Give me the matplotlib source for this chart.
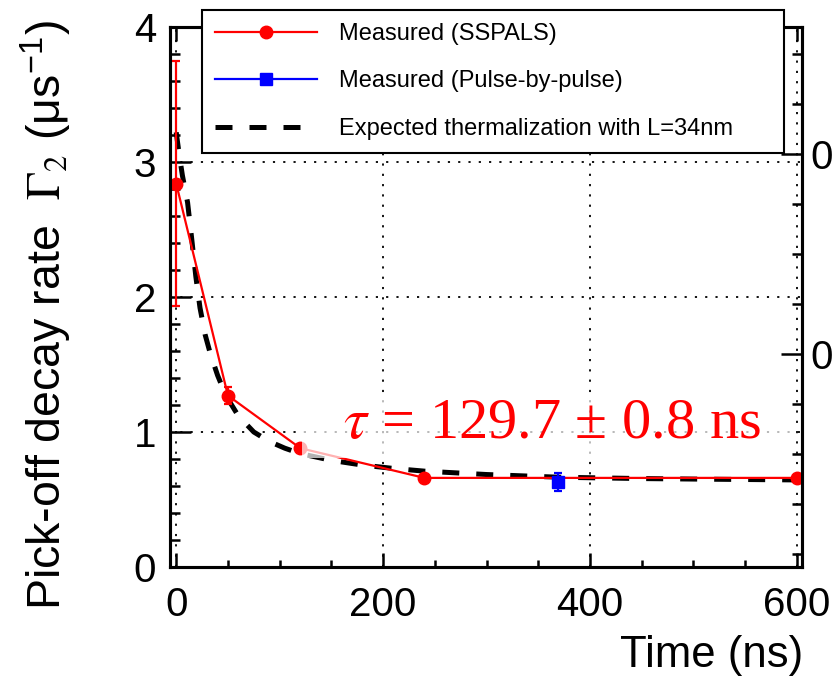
import numpy as np
import matplotlib.pyplot as plt
from matplotlib.patches import Rectangle

plt.rcParams['font.family'] = ['Liberation Sans', 'DejaVu Sans']
plt.rcParams['mathtext.fontset'] = 'stix'

# SSPALS measurements
t_sspals = [0, 50, 120, 240, 600]
g_sspals = [2.84, 1.27, 0.88, 0.66, 0.66]
e_sspals = [0.91, 0.065, 0.01, 0.01, 0.01]

# pulse-by-pulse measurement
t_pbp = [369]
g_pbp = [0.63]
e_pbp = [0.07]

# expected thermalization curve
t_exp = [0, 3, 6, 11, 15, 19, 23, 28, 33, 40, 48, 60, 75, 90, 105, 120,
         150, 180, 210, 240, 300, 370, 450, 520, 600]
g_exp = [3.22, 3.05, 2.9, 2.7, 2.43, 2.15, 1.92, 1.72, 1.58, 1.42, 1.27,
         1.12, 1.0, 0.93, 0.88, 0.84, 0.79, 0.755, 0.73, 0.71, 0.685,
         0.665, 0.655, 0.65, 0.645]

W, H = 835, 678
fig = plt.figure(figsize=(W / 100, H / 100), dpi=100)
ax = fig.add_axes([170 / W, 1 - 567 / H, (802 - 170) / W, (567 - 27) / H])

ax.set_xlim(-6, 605)
ax.set_ylim(0, 4)

# grid
grid_style = dict(color='black', lw=1.3, ls=(0, (1.2, 4.5)), zorder=1)
for gx in [0, 200, 400, 600]:
    ax.axvline(gx, **grid_style)
for gy in [1, 2, 3]:
    ax.axhline(gy, **grid_style)

ax.errorbar(t_sspals, g_sspals, yerr=e_sspals, fmt='none', ecolor='red',
            elinewidth=1.6, capsize=3, capthick=1.6, zorder=4)
h1, = ax.plot(t_sspals, g_sspals, color='red', marker='o', ms=9, lw=1.6,
              zorder=4, label='Measured (SSPALS)')
ax.errorbar(t_pbp, g_pbp, yerr=e_pbp, fmt='none', ecolor='blue',
            elinewidth=1.6, capsize=3, capthick=1.6, zorder=4)
h2, = ax.plot(t_pbp, g_pbp, color='blue', marker='s', ms=9, lw=1.6,
              zorder=4, label='Measured (Pulse-by-pulse)')
h3, = ax.plot(t_exp, g_exp, color='black', lw=3.6, ls=(0, (3.4, 3.4)),
              zorder=3, label='Expected thermalization with L=34nm')

# semi-transparent box behind the tau label
ax.add_patch(Rectangle((122, 0.805), 477, 0.485, facecolor='white',
                       edgecolor='none', alpha=0.7, zorder=5))
ax.text(343 / W, 1 - 438 / H, r'$\tau$ = 129.7 ± 0.8 ns', transform=fig.transFigure,
        color='red', fontsize=42, family=['Liberation Serif', 'DejaVu Serif'],
        ha='left', va='baseline', zorder=6)

# ticks
ax.set_xticks([0, 200, 400, 600])
ax.set_xticks(np.arange(0, 601, 50), minor=True)
ax.set_yticks([0, 1, 2, 3, 4])
ax.set_yticks(np.arange(0, 4.01, 0.2), minor=True)
ax.tick_params(axis='both', which='both', direction='in', width=1.8,
               labelsize=29, top=True, right=False)
ax.tick_params(axis='x', which='major', length=10, pad=14)
ax.tick_params(axis='x', which='minor', length=5)
ax.tick_params(axis='y', which='major', length=15, pad=10)
ax.tick_params(axis='y', which='minor', length=7.5)
for s in ax.spines.values():
    s.set_linewidth(2.2)

# right-hand axis (cut off in the original)
ax2 = ax.twinx()
ax2.set_ylim(0.0935, 0.3635)
ax2.set_yticks([0.2, 0.3])
ax2.set_yticklabels(['0.2', '0.3'])
ax2.set_yticks(np.arange(0.1, 0.36, 0.025), minor=True)
ax2.tick_params(axis='y', which='major', direction='in', length=15, width=1.8,
                labelsize=29, pad=6)
ax2.tick_params(axis='y', which='minor', direction='in', length=7.5, width=1.8)
for s in ax2.spines.values():
    s.set_linewidth(2.2)

leg = ax2.legend(handles=[h1, h2, h3], loc='upper left', mode='expand',
                 bbox_to_anchor=(202 / W, 1 - 150 / H, (784 - 202) / W, 140 / H),
                 bbox_transform=fig.transFigure, fontsize=17, frameon=True,
                 fancybox=False, handlelength=4.3, handletextpad=0.95,
                 labelspacing=1.08, borderpad=0.55, borderaxespad=0,
                 framealpha=1)
leg.get_frame().set_edgecolor('black')
leg.get_frame().set_linewidth(1.5)
leg.set_zorder(10)

fig.text(47 / W, 1 - 20 / H,
         r'Pick-off decay rate  $\Gamma_{2}$ (μs$^{\mathregular{-1}}$)',
         rotation=90, ha='center', va='top', fontsize=33.5)
fig.text(803 / W, 1 - 656 / H, 'Time (ns)', ha='right', va='center', fontsize=31.5)

fig.savefig('out.png', dpi=100)
